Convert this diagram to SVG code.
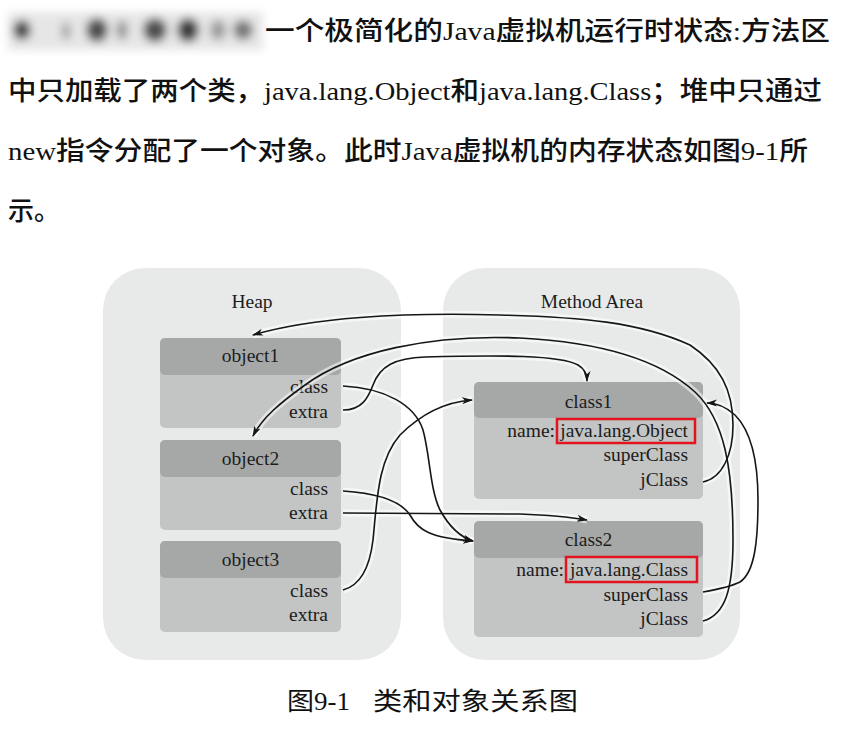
<svg xmlns="http://www.w3.org/2000/svg" xmlns:xlink="http://www.w3.org/1999/xlink" width="851" height="731" viewBox="0 0 851 731">
<style>
.body{font-family:"Liberation Serif","Noto Sans CJK SC",serif;font-size:26px;font-weight:500;fill:#111}
.lat{font-weight:normal}
.cap{font-family:"Liberation Serif","Noto Sans CJK SC",serif;font-size:25px;fill:#111}
.lbl{font-family:"Liberation Serif",serif;font-size:19.5px;fill:#1c1c1c}
.area{fill:#e8eaea}
.hdr{fill:#a6a8a8}
.bdy{fill:#c3c4c4}
.red{fill:none;stroke:#e3141d;stroke-width:2.5}
.halo{fill:none;stroke:#ffffff;stroke-opacity:0.55;stroke-width:7}
.wire{fill:none;stroke:#161616;stroke-width:1.6}
</style>
<defs>
<filter id="blur" x="-20%" y="-50%" width="140%" height="200%"><feGaussianBlur stdDeviation="4.5"/></filter>
<marker id="arr" markerWidth="12" markerHeight="8" refX="10" refY="4" orient="auto" markerUnits="userSpaceOnUse">
<path d="M0,0.5 L11,4 L0,7.5 L3,4 z" fill="#161616"/>
</marker>
<path id="pA" d="M343,386 C385,388 415,405 423,430 C430,455 430,490 440,510 C450,528 460,537 473,541"/>
<path id="pB" d="M343,491 C375,493 400,500 410,515 C418,530 430,538 473,541"/>
<path id="pC" d="M343,590 C362,585 370,565 373,540 C377,500 378,460 400,435 C420,415 445,402 472,400"/>
<path id="pD" d="M343,410 C362,410 368,398 373,385 C380,366 395,358 425,357 C500,355 560,355 578,365 C585,369 587,374 587,381"/>
<path id="pE" d="M343,513 L520,514 C550,515 570,517 587,520"/>
<path id="pF" d="M703,482 C722,478 733,455 733,425 C733,390 720,365 690,345 C640,322 580,317 500,315 C400,312 310,318 253,335"/>
<path id="pG" d="M703,621 C725,615 733,590 733,540 C733,470 725,420 695,392 C660,360 600,342 520,338 C430,334 350,352 305,385 C280,403 262,418 253,436"/>
<path id="pH" d="M703,592 C720,589 732,586 740,582 C755,572 758,540 758,500 C758,460 750,430 735,415 C725,406 715,403 707,403"/>
</defs>
<rect width="851" height="731" fill="#ffffff"/>

<g id="intro">
<g filter="url(#blur)">
<rect x="8" y="12" width="255" height="38" fill="#e6e6e6"/>
<ellipse cx="22" cy="30" rx="9" ry="10" fill="#4a4a4a"/>
<ellipse cx="66" cy="31" rx="5" ry="9" fill="#a8a8a8"/>
<ellipse cx="97" cy="30" rx="11" ry="12" fill="#4f4f4f"/>
<ellipse cx="122" cy="30" rx="6" ry="10" fill="#999"/>
<ellipse cx="155" cy="30" rx="12" ry="12" fill="#505050"/>
<ellipse cx="188" cy="30" rx="11" ry="12" fill="#3c3c3c"/>
<ellipse cx="218" cy="30" rx="8" ry="10" fill="#9a9a9a"/>
<ellipse cx="243" cy="30" rx="10" ry="10" fill="#777"/>
</g>
<text class="body" x="265" y="40" textLength="565" lengthAdjust="spacingAndGlyphs">一个极简化的<tspan class="lat">Java</tspan>虚拟机运行时状态:方法区</text>
<text class="body" x="8" y="100" textLength="814" lengthAdjust="spacingAndGlyphs">中只加载了两个类，<tspan class="lat">java.lang.Object</tspan>和<tspan class="lat">java.lang.Class</tspan>；堆中只通过</text>
<text class="body" x="8" y="160" textLength="800" lengthAdjust="spacingAndGlyphs"><tspan class="lat">new</tspan>指令分配了一个对象。此时<tspan class="lat">Java</tspan>虚拟机的内存状态如图<tspan class="lat">9-1</tspan>所</text>
<text class="body" x="8" y="220">示。</text>
</g>

<g id="heap">
<rect class="area" x="103" y="268" width="298" height="392" rx="42"/>
<text class="lbl" x="252" y="308" text-anchor="middle">Heap</text>
</g>
<g id="method-area">
<rect class="area" x="443" y="268" width="297" height="392" rx="42"/>
<text class="lbl" x="592" y="308" text-anchor="middle">Method Area</text>
</g>

<g id="object1">
<rect class="bdy" x="160" y="338" width="181" height="90" rx="5"/>
<rect class="hdr" x="160" y="338" width="181" height="37" rx="5"/>
<text class="lbl" x="250.5" y="362" text-anchor="middle">object1</text>
<text class="lbl" x="328" y="393" text-anchor="end">class</text>
<text class="lbl" x="328" y="418" text-anchor="end">extra</text>
</g>
<g id="object2">
<rect class="bdy" x="160" y="440" width="181" height="90" rx="5"/>
<rect class="hdr" x="160" y="440" width="181" height="37" rx="5"/>
<text class="lbl" x="250.5" y="465" text-anchor="middle">object2</text>
<text class="lbl" x="328" y="495" text-anchor="end">class</text>
<text class="lbl" x="328" y="519" text-anchor="end">extra</text>
</g>
<g id="object3">
<rect class="bdy" x="160" y="541" width="181" height="91" rx="5"/>
<rect class="hdr" x="160" y="541" width="181" height="37" rx="5"/>
<text class="lbl" x="250.5" y="566" text-anchor="middle">object3</text>
<text class="lbl" x="328" y="597" text-anchor="end">class</text>
<text class="lbl" x="328" y="621" text-anchor="end">extra</text>
</g>

<g id="class1">
<rect class="bdy" x="474" y="382" width="229" height="117" rx="5"/>
<rect class="hdr" x="474" y="382" width="229" height="36" rx="5"/>
<text class="lbl" x="588.5" y="408" text-anchor="middle">class1</text>
<text class="lbl" x="555" y="437" text-anchor="end">name:</text>
<rect class="red" x="557" y="419" width="138" height="24"/>
<text class="lbl" x="688" y="437" text-anchor="end">java.lang.Object</text>
<text class="lbl" x="688" y="461" text-anchor="end">superClass</text>
<text class="lbl" x="688" y="486" text-anchor="end">jClass</text>
</g>
<g id="class2">
<rect class="bdy" x="474" y="521" width="229" height="116" rx="5"/>
<rect class="hdr" x="474" y="521" width="229" height="37" rx="5"/>
<text class="lbl" x="588.5" y="546" text-anchor="middle">class2</text>
<text class="lbl" x="564" y="576" text-anchor="end">name:</text>
<rect class="red" x="566" y="557" width="131" height="25"/>
<text class="lbl" x="688" y="576" text-anchor="end">java.lang.Class</text>
<text class="lbl" x="688" y="601" text-anchor="end">superClass</text>
<text class="lbl" x="688" y="625" text-anchor="end">jClass</text>
</g>

<g id="connectors">
<use xlink:href="#pA" class="halo"/>
<use xlink:href="#pB" class="halo"/>
<use xlink:href="#pC" class="halo"/>
<use xlink:href="#pD" class="halo"/>
<use xlink:href="#pE" class="halo"/>
<use xlink:href="#pF" class="halo"/>
<use xlink:href="#pG" class="halo"/>
<use xlink:href="#pH" class="halo"/>
<use xlink:href="#pA" class="wire" marker-end="url(#arr)"/>
<use xlink:href="#pB" class="wire" marker-end="url(#arr)"/>
<use xlink:href="#pC" class="wire" marker-end="url(#arr)"/>
<use xlink:href="#pD" class="wire" marker-end="url(#arr)"/>
<use xlink:href="#pE" class="wire" marker-end="url(#arr)"/>
<use xlink:href="#pF" class="wire" marker-end="url(#arr)"/>
<use xlink:href="#pG" class="wire" marker-end="url(#arr)"/>
<use xlink:href="#pH" class="wire" marker-end="url(#arr)"/>
</g>

<g id="caption">
<text class="cap" x="287" y="710" textLength="63" lengthAdjust="spacingAndGlyphs">图9-1</text>
<text class="cap" x="373" y="710" textLength="205" lengthAdjust="spacingAndGlyphs">类和对象关系图</text>
</g>
</svg>
